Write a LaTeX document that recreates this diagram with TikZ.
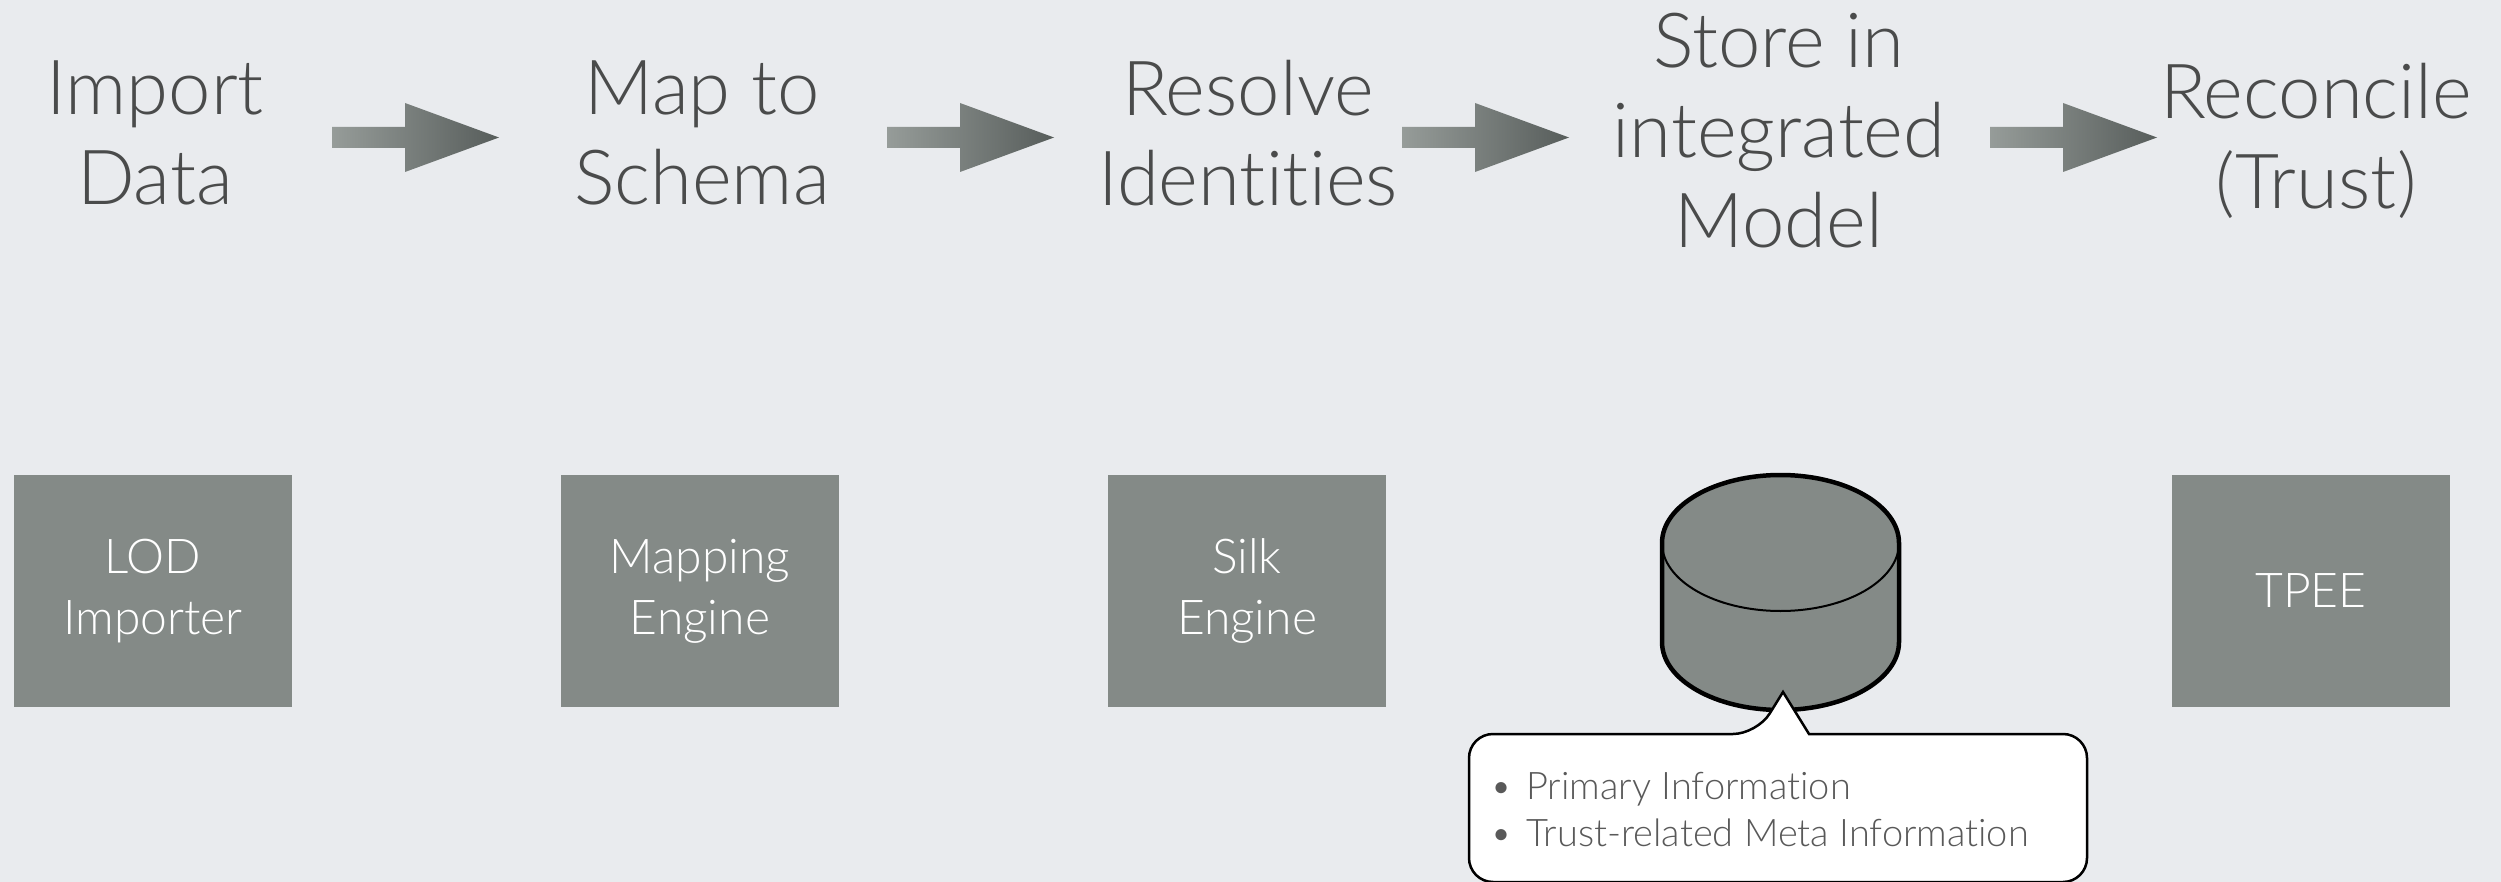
\documentclass[tikz,border=0pt]{standalone}
\usepackage{fontspec}
\setmainfont{Lato Light}[Ligatures={NoCommon,NoRequired,NoContextual}]
\begin{document}
\begin{tikzpicture}[x=1pt,y=-1pt,
  title/.style={align=center, text=titlegray, font=\fontsize{76}{90}\selectfont, inner sep=0pt},
  boxlabel/.style={draw=none, fill=boxgray, text=white, minimum width=278pt, minimum height=232pt, align=center, inner sep=0pt, font=\fontsize{48}{61}\selectfont},
  flowarrow/.style={left color=arrowlight, right color=arrowdark, draw=none}]
\definecolor{bg}{HTML}{E9EBEE}
\definecolor{titlegray}{HTML}{4A4B4B}
\definecolor{boxgray}{HTML}{848A87}
\definecolor{arrowlight}{HTML}{969C99}
\definecolor{arrowdark}{HTML}{575D5B}
\definecolor{calltext}{HTML}{595959}
\fill[bg] (0,0) rectangle (2501,882);
\useasboundingbox (0,0) rectangle (2501,882);
% titles
\node[title] (t1) at (155,133) {Import\\Data};
\node[title] (t2) at (702,133) {Map to\\Schema};
\node[title] (t3) at (1248,133) {Resolve\\Identities};
\node[title] (t4) at (1779,131) {Store in\\integrated\\Model};
\node[title] (t5) at (2316,141) {Reconcile\\(Trust)};
% arrows
\foreach \x in {332,887,1402,1990}{
  \shade[flowarrow] (\x,127) -- (\x+73,127) -- (\x+73,103) -- (\x+167,137.5) -- (\x+73,172) -- (\x+73,148) -- (\x,148) -- cycle;
}
% boxes
\node[boxlabel] (b1) at (153,591) {\raisebox{-5pt}{\parbox{278pt}{\centering LOD\\Importer}}};
\node[boxlabel] (b2) at (700,591) {\raisebox{-5pt}{\parbox{278pt}{\centering Mapping\\Engine}}};
\node[boxlabel] (b3) at (1247,591) {\raisebox{-5pt}{\parbox{278pt}{\centering Silk\\Engine}}};
\node[boxlabel] (b5) at (2311,591) {TPEE};
% cylinder
\coordinate (b4) at (1781,591);
\fill[boxgray, draw=black, line width=4.5pt]
  (1662,543) -- (1662,642)
  arc[start angle=180, end angle=0, x radius=118.5, y radius=68] -- (1899,543)
  arc[start angle=0, end angle=-180, x radius=118.5, y radius=68] -- cycle;
\draw[black, line width=2pt] (1662,543) arc[start angle=180, end angle=0, x radius=118.5, y radius=68];
% callout
\coordinate (tip) at (1783,692);
\draw[fill=white, draw=black, line width=2.5pt, rounded corners=24pt]
  (1469,734) -- (1757,734) [sharp corners] -- (tip) -- (1809,734) [rounded corners=24pt] -- (2087,734) -- (2087,882) -- (1469,882) -- cycle;
\node[anchor=north west, inner sep=0pt, text=calltext, font=\fontsize{38}{47}\selectfont, align=left] (co) at (1490,772)
  {\textbullet\hspace{14pt}Primary Information\\\textbullet\hspace{14pt}Trust-related Meta Information};
\end{tikzpicture}
\end{document}
